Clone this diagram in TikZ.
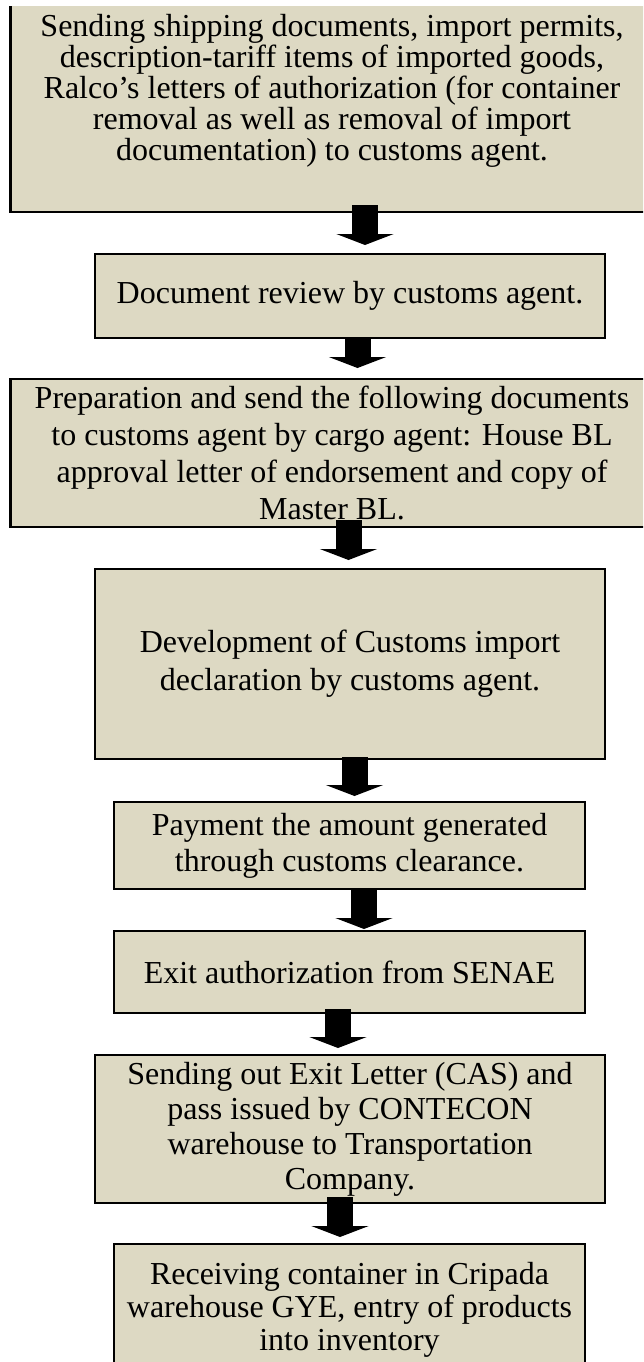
\documentclass[tikz,border=0pt]{standalone}
\usepackage{fontspec}
\setmainfont{Liberation Serif}
\usetikzlibrary{arrows.meta}
\definecolor{boxfill}{RGB}{221,217,195}

\begin{document}
\begin{tikzpicture}[x=1pt,y=1pt,
	stepbox/.style={draw,line width=2.4pt,fill=boxfill,align=center,
		inner sep=0pt,outer sep=0pt,font=\fontsize{32}{37}\selectfont},
	flow/.style={line width=26pt,-{Triangle[length=11pt,width=57pt]}}]

\useasboundingbox (0,0) rectangle (643,-1362);
\clip (0,-7) rectangle (643,-1362);

% boxes
\node[stepbox,minimum width=643pt,minimum height=243pt,font=\fontsize{32}{31}\selectfont]
	(send) at (332,-90.5) {Sending shipping documents, import permits,\\
	description-tariff items of imported goods,\\
	Ralco's letters of authorization (for container\\
	removal as well as removal of import\\
	documentation) to customs agent.};
\node[stepbox,minimum width=510pt,minimum height=84pt]
	(review) at (350,-296) {Document review by customs agent.};
\node[stepbox,minimum width=643pt,minimum height=148pt]
	(prep) at (332,-453) {Preparation and send the following documents\\
	to customs agent by cargo agent: House BL\\
	approval letter of endorsement and copy of\\
	Master BL.};
\node[stepbox,minimum width=510pt,minimum height=190pt,font=\fontsize{32}{38}\selectfont]
	(decl) at (350,-664) {Development of Customs import\\
	declaration by customs agent.};
\node[stepbox,minimum width=471pt,minimum height=87pt,font=\fontsize{32}{36}\selectfont]
	(pay) at (349.5,-845.5) {Payment the amount generated\\
	through customs clearance.};
\node[stepbox,minimum width=471pt,minimum height=82pt]
	(exit) at (349.5,-972) {Exit authorization from SENAE};
\node[stepbox,minimum width=510pt,minimum height=148pt,font=\fontsize{32}{35}\selectfont]
	(letter) at (350,-1129) {Sending out Exit Letter (CAS) and\\
	pass issued by CONTECON\\
	warehouse to Transportation\\
	Company.};
\node[stepbox,minimum width=471pt,minimum height=132pt,font=\fontsize{32}{33}\selectfont]
	(receive) at (349.5,-1310) {Receiving container in Cripada\\
	warehouse GYE, entry of products\\
	into inventory};

% arrows
\draw[flow] ([xshift=33pt,yshift=7pt]send.south) -- ([xshift=15pt,yshift=9pt]review.north);
\draw[flow] ([xshift=7.5pt]review.south) -- ([xshift=25.5pt,yshift=11pt]prep.north);
\draw[flow] ([xshift=16.5pt,yshift=7pt]prep.south) -- ([xshift=-1.5pt,yshift=9pt]decl.north);
\draw[flow] ([xshift=4.5pt,yshift=2pt]decl.south) -- ([xshift=5pt,yshift=6pt]pay.north);
\draw[flow] ([xshift=14.5pt]pay.south) -- ([xshift=14.5pt,yshift=2pt]exit.north);
\draw[flow] ([xshift=-11.5pt,yshift=4pt]exit.south) -- ([xshift=-12pt,yshift=7pt]letter.north);
\draw[flow] ([xshift=-10pt,yshift=6pt]letter.south) -- ([xshift=-9.5pt,yshift=7pt]receive.north);
\end{tikzpicture}
\end{document}
